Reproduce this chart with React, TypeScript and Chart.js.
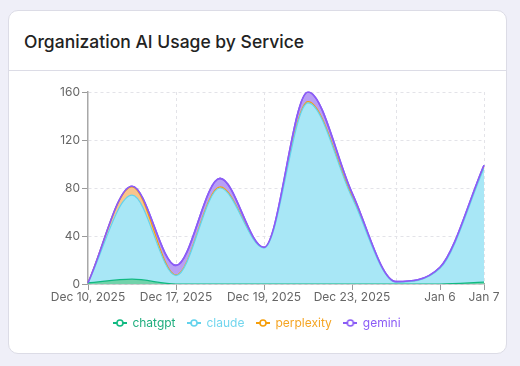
import React, { useEffect, useRef } from 'react';
import { Chart, registerables } from 'chart.js';

Chart.register(...registerables);

// ---- data ----
const labels = [
  'Dec 10, 2025',
  'Dec 12, 2025',
  'Dec 17, 2025',
  'Dec 18, 2025',
  'Dec 19, 2025',
  'Dec 22, 2025',
  'Dec 23, 2025',
  'Jan 5',
  'Jan 6',
  'Jan 7',
];
const chatgpt = [1, 4, 0, 0, 0, 0, 0, 0, 0, 1.5];
const claude = [0, 70, 7, 80, 30, 151, 72, 1.5, 13, 95];
const perplexity = [0, 7, 0.5, 1, 0, 1, 1, 0, 0, 1];
const gemini = [0, 0.5, 8, 7, 0.5, 8, 3, 0.5, 1, 1.5];
const seriesNames = ['chatgpt', 'claude', 'perplexity', 'gemini'];
const yTicks = [0, 40, 80, 120, 160];
const shownLabelIdx = [0, 2, 4, 6, 8, 9];
const vGridIdx = [2, 4, 7, 9];

// ---- styles ----
const strokeColors = ['#10b981', '#62d2ec', '#f59e0b', '#8b5cf6'];
const fillColors = ['#72d2aa', '#a8e7f6', '#f9c58c', '#b89ff5'];
const legendText = ['#1fae7e', '#72d6ee', '#f5a524', '#8b5cf6'];
const FONT = 'Inter, "Open Sans", sans-serif';

function makeIcon(color: string) {
  const c = document.createElement('canvas');
  c.width = 14;
  c.height = 10;
  const g = c.getContext('2d')!;
  g.strokeStyle = color;
  g.lineWidth = 2;
  g.beginPath();
  g.moveTo(0, 5);
  g.lineTo(14, 5);
  g.stroke();
  g.beginPath();
  g.arc(7, 5, 3, 0, Math.PI * 2);
  g.fillStyle = '#fff';
  g.fill();
  g.lineWidth = 1.6;
  g.stroke();
  return c;
}

const topLinePlugin = {
  id: 'topLine',
  afterDatasetsDraw(chart: any) {
    const meta = chart.getDatasetMeta(3);
    if (!meta || !meta.dataset) return;
    const ctx = chart.ctx;
    const a = chart.chartArea;
    ctx.save();
    ctx.beginPath();
    ctx.rect(a.left - 2, a.top - 2, a.right - a.left + 4, a.bottom - a.top + 4);
    ctx.clip();
    meta.dataset.draw(ctx, a);
    ctx.restore();
  },
};

export default function App() {
  const ref = useRef<HTMLCanvasElement | null>(null);

  useEffect(() => {
    if (!ref.current) return;
    const series = [chatgpt, claude, perplexity, gemini];
    const icons = strokeColors.map(makeIcon);
    const chart = new Chart(ref.current, {
      type: 'line',
      data: {
        labels,
        datasets: series.map((d, i) => ({
          label: seriesNames[i],
          data: d,
          borderColor: strokeColors[i],
          backgroundColor: fillColors[i],
          borderWidth: i === 3 ? 1.6 : 1.2,
          fill: i === 0 ? 'origin' : '-1',
          cubicInterpolationMode: 'monotone' as const,
          pointRadius: 0,
          pointHoverRadius: 0,
        })),
      },
      options: {
        responsive: false,
        animation: false,
        layout: { padding: { top: 21, right: 23, left: 22, bottom: 13 } },
        font: { family: FONT },
        plugins: {
          tooltip: { enabled: false },
          legend: {
            position: 'bottom',
            labels: {
              usePointStyle: true,
              pointStyleWidth: 13,
              padding: 12,
              font: { family: FONT, size: 12 },
              generateLabels: (ch: any) =>
                ch.data.datasets.map((ds: any, i: number) => ({
                  text: ds.label,
                  fillStyle: strokeColors[i],
                  strokeStyle: strokeColors[i],
                  fontColor: legendText[i],
                  pointStyle: icons[i],
                  lineWidth: 0,
                  hidden: false,
                  datasetIndex: i,
                })),
            },
          },
        },
        scales: {
          x: {
            type: 'category',
            offset: false,
            grid: {
              color: (c: any) => (vGridIdx.includes(c.index) ? '#e3e3e8' : 'rgba(0,0,0,0)'),
              tickColor: (c: any) => (shownLabelIdx.includes(c.index) ? '#9a9a9a' : 'rgba(0,0,0,0)'),
              tickLength: 6,
            },
            border: { display: true, color: '#a8a8a8', width: 1.5, dash: [3, 3] },
            ticks: {
              autoSkip: false,
              maxRotation: 0,
              padding: 0,
              color: '#666',
              font: { family: FONT, size: 12 },
              callback: (_v: any, i: number) => (shownLabelIdx.includes(i) ? labels[i] : ''),
            },
            afterFit: (s: any) => {
              s.height = 21;
            },
          },
          y: {
            stacked: true,
            min: 0,
            max: 160,
            afterBuildTicks: (s: any) => {
              s.ticks = yTicks.map((v) => ({ value: v }));
            },
            grid: {
              color: '#e3e3e8',
              tickColor: '#9a9a9a',
              tickLength: 6,
            },
            border: { display: true, color: '#a8a8a8', width: 1.5, dash: [3, 3] },
            ticks: {
              padding: 2,
              color: '#666',
              font: { family: FONT, size: 12 },
            },
            afterFit: (s: any) => {
              s.width = 58;
            },
          },
        },
      } as any,
      plugins: [topLinePlugin],
    });
    return () => chart.destroy();
  }, []);

  return (
    <div
      style={{
        position: 'absolute',
        left: 0,
        top: 0,
        width: 520,
        height: 366,
        background: '#efeff8',
        fontFamily: FONT,
        overflow: 'hidden',
      }}
    >
      <div
        style={{
          position: 'absolute',
          left: 8,
          top: 10,
          width: 499,
          height: 344,
          boxSizing: 'border-box',
          border: '1px solid #dcdce6',
          borderRadius: 10,
          background: '#fff',
        }}
      >
        <div
          style={{
            position: 'absolute',
            left: 15,
            top: 20,
            lineHeight: '22px',
            fontSize: 17.5,
            fontWeight: 500,
            color: '#222',
            whiteSpace: 'nowrap',
          }}
        >
          Organization AI Usage by Service
        </div>
        <div
          style={{
            position: 'absolute',
            left: 0,
            right: 0,
            top: 59,
            height: 1,
            background: '#dcdce6',
          }}
        />
      </div>
      <canvas
        ref={ref}
        width={499}
        height={281}
        style={{ position: 'absolute', left: 8, top: 71, width: 499, height: 281 }}
      />
    </div>
  );
}
